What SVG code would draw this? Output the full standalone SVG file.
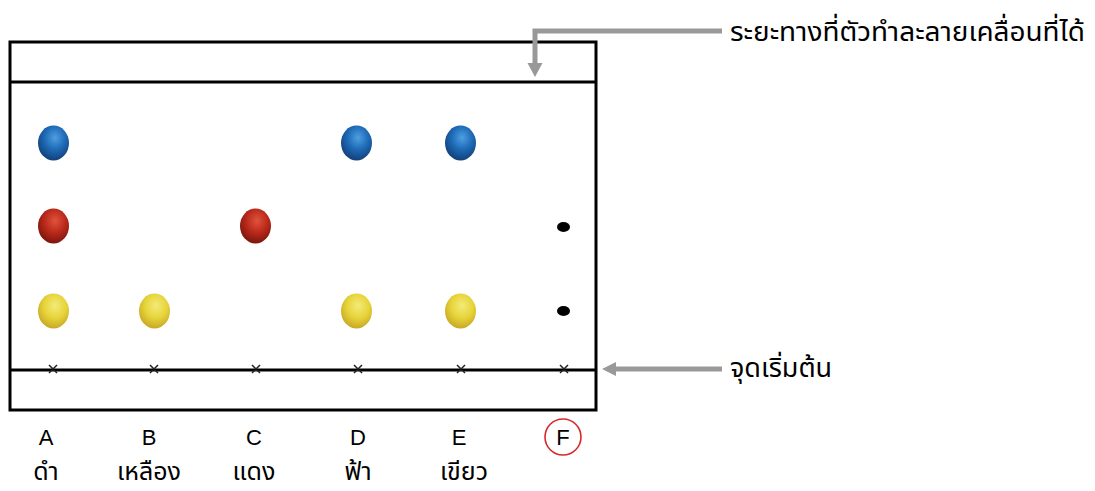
<svg xmlns="http://www.w3.org/2000/svg" width="1095" height="491" viewBox="0 0 1095 491">
<style>
.frame{fill:none;stroke:#000;stroke-width:3}
.line{stroke:#000;stroke-width:3}
.cross{stroke:#222;stroke-width:1.5}
.lbl{font-family:"Liberation Sans","Noto Sans",sans-serif;font-size:22px;fill:#000;text-anchor:middle}
.th{font-family:"Noto Sans Thai","Noto Sans","Loma",sans-serif;font-size:27px;fill:#000}
.thb{font-size:25px}
.thc{text-anchor:middle}
.arrow{fill:none;stroke:#999;stroke-width:5}
</style>
<defs>
<radialGradient id="gBlue" cx="0.55" cy="0.35" r="0.65">
<stop offset="0" stop-color="#4f9fe0"/>
<stop offset="0.5" stop-color="#1f6cb8"/>
<stop offset="1" stop-color="#12407a"/>
</radialGradient>
<radialGradient id="gRed" cx="0.55" cy="0.35" r="0.65">
<stop offset="0" stop-color="#e0533c"/>
<stop offset="0.55" stop-color="#b8281a"/>
<stop offset="1" stop-color="#7a160d"/>
</radialGradient>
<radialGradient id="gYel" cx="0.55" cy="0.35" r="0.65">
<stop offset="0" stop-color="#f4ea78"/>
<stop offset="0.55" stop-color="#e6d43a"/>
<stop offset="1" stop-color="#c9a825"/>
</radialGradient>
</defs>

<g id="plate">
<rect class="frame" x="10" y="42" width="586" height="368"/>
<line class="line" x1="10" y1="82" x2="596" y2="82"/>
<line class="line" x1="10" y1="370" x2="596" y2="370"/>
</g>

<g id="crosses">
<path class="cross" d="M49,365 l8,8 M57,365 l-8,8 M150,365 l8,8 M158,365 l-8,8 M252,365 l8,8 M260,365 l-8,8 M354,365 l8,8 M362,365 l-8,8 M457,365 l8,8 M465,365 l-8,8 M560,365 l8,8 M568,365 l-8,8"/>
</g>

<g id="spotA">
<ellipse cx="53.5" cy="143" rx="15.5" ry="17.5" fill="url(#gBlue)"/>
<ellipse cx="53.5" cy="226" rx="15.5" ry="17.5" fill="url(#gRed)"/>
<ellipse cx="53.5" cy="311" rx="15.5" ry="17.5" fill="url(#gYel)"/>
</g>
<g id="spotB">
<ellipse cx="154.5" cy="311" rx="15.5" ry="17.5" fill="url(#gYel)"/>
</g>
<g id="spotC">
<ellipse cx="255.5" cy="226" rx="15.5" ry="17.5" fill="url(#gRed)"/>
</g>
<g id="spotD">
<ellipse cx="356.5" cy="143" rx="15.5" ry="17.5" fill="url(#gBlue)"/>
<ellipse cx="356.5" cy="311" rx="15.5" ry="17.5" fill="url(#gYel)"/>
</g>
<g id="spotE">
<ellipse cx="460.5" cy="143" rx="15.5" ry="17.5" fill="url(#gBlue)"/>
<ellipse cx="460.5" cy="311" rx="15.5" ry="17.5" fill="url(#gYel)"/>
</g>
<g id="spotF">
<ellipse cx="563.5" cy="227" rx="6.5" ry="5" fill="#000"/>
<ellipse cx="563.5" cy="311" rx="6.5" ry="5" fill="#000"/>
</g>

<g id="labels">
<text class="lbl" x="46" y="445">A</text>
<text class="lbl" x="149" y="445">B</text>
<text class="lbl" x="254" y="445">C</text>
<text class="lbl" x="358" y="445">D</text>
<text class="lbl" x="459" y="445">E</text>
<text class="lbl" x="563" y="445">F</text>
<circle cx="563" cy="437" r="18" fill="none" stroke="#d42a2a" stroke-width="1.6"/>
<text class="th thb thc" x="46" y="480">ดำ</text>
<text class="th thb thc" x="149" y="480">เหลือง</text>
<text class="th thb thc" x="254" y="480">แดง</text>
<text class="th thb thc" x="358" y="480">ฟ้า</text>
<text class="th thb thc" x="464" y="480">เขียว</text>
</g>

<g id="connectors">
<polyline class="arrow" points="722,31 535,31 535,68"/>
<path d="M527.5,63 L542.5,63 L535,77 z" fill="#999"/>
<line class="arrow" x1="722" y1="369" x2="614" y2="369"/>
<path d="M616,362 L616,376 L602,369 z" fill="#999"/>
</g>

<g id="annotations">
<text class="th" x="730" y="41" textLength="355" lengthAdjust="spacingAndGlyphs">ระยะทางที่ตัวทำละลายเคลื่อนที่ได้</text>
<text class="th" x="730" y="377">จุดเริ่มต้น</text>
</g>
</svg>
